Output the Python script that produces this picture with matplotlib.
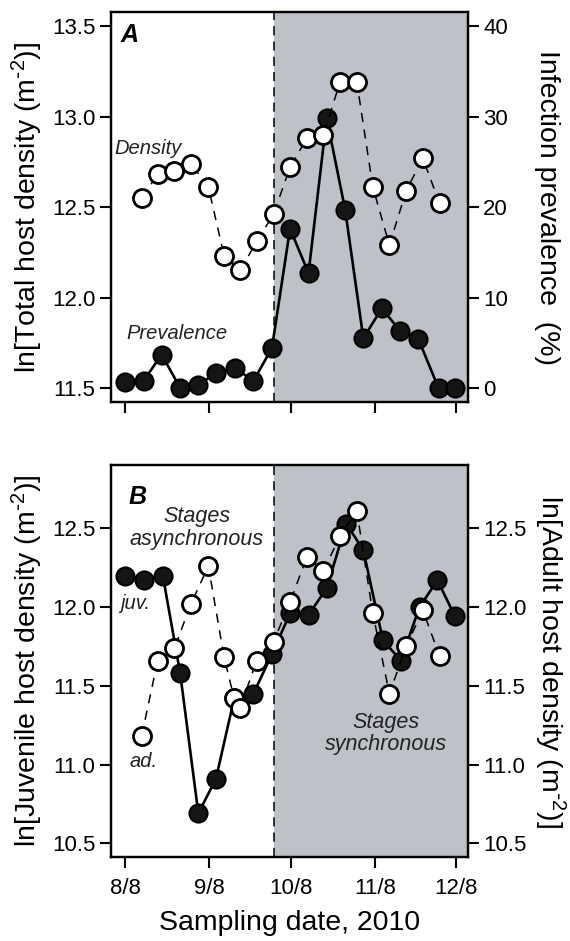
import numpy as np
import matplotlib.pyplot as plt
from matplotlib.ticker import FormatStrFormatter

plt.rcParams['font.family'] = ['Liberation Sans', 'DejaVu Sans']
plt.rcParams['mathtext.default'] = 'regular'

# days since 8 Aug 2010
tick_days = [0, 31, 61, 92, 122]
tick_labels = ['8/8', '9/8', '10/8', '11/8', '12/8']
switch_day = 54.7

# panel A: prevalence (%) and total density
prev_days = [0, 6.8, 13.5, 20.3, 27.0, 33.5, 40.5, 47.3, 54.1, 60.8,
             67.6, 74.3, 81.1, 87.8, 94.6, 101.4, 108.1, 115.5, 121.6]
prevalence = [0.7, 0.8, 3.7, 0.0, 0.3, 1.7, 2.2, 0.8, 4.4, 17.6,
              12.7, 29.8, 19.7, 5.5, 8.8, 6.3, 5.4, 0.0, 0.0]
dens_days = [6.1, 12.0, 18.2, 24.3, 30.7, 36.5, 42.4, 48.5, 54.7, 60.8,
             67.0, 73.1, 79.2, 85.4, 91.3, 97.4, 103.6, 109.7, 115.9]
density = [12.55, 12.68, 12.70, 12.74, 12.61, 12.23, 12.15, 12.31, 12.46, 12.72,
           12.88, 12.90, 13.19, 13.19, 12.61, 12.29, 12.59, 12.77, 12.52]

# panel B: juvenile and adult density
juv_days = [0, 6.8, 13.9, 20.3, 27.0, 33.5, 40.2, 47.3, 54.1, 60.8,
            67.6, 74.3, 81.5, 87.8, 95.0, 101.6, 108.5, 115.1, 121.6]
juvenile = [12.20, 12.17, 12.20, 11.58, 10.69, 10.91, 11.42, 11.45, 11.70, 11.96,
            11.95, 12.12, 12.53, 12.36, 11.79, 11.66, 12.00, 12.17, 11.94]
ad_days = [6.1, 12.0, 18.2, 24.3, 30.7, 36.5, 40.2, 42.4, 48.5, 54.7,
           60.8, 67.0, 73.1, 79.2, 85.4, 91.3, 97.4, 103.6, 109.7, 115.9]
adult = [11.18, 11.66, 11.74, 12.02, 12.26, 11.68, 11.42, 11.36, 11.66, 11.78,
         12.03, 12.32, 12.23, 12.45, 12.61, 11.96, 11.45, 11.75, 11.98, 11.69]

shade = '#bfc1c9'
note_col = '#222222'
xlim = (-5.3, 126.4)
fs_tick = 16
fs_lab = 20.5
fs_note = 14.5
m2 = r'(m$^{\text{-}2}$)'


def style(a):
    for s in a.spines.values():
        s.set_linewidth(1.6)
    a.tick_params(direction='out', length=8, width=1.5, labelsize=fs_tick, pad=3)


fig = plt.figure(figsize=(5.7, 9.41), dpi=100)

# ---- panel A
axA = fig.add_axes([0.1942, 0.5728, 0.627, 0.4144])
axA2 = axA.twinx()
axA.set_zorder(axA2.get_zorder() + 1)
axA.patch.set_visible(False)

axA2.axvspan(switch_day, xlim[1], color=shade, lw=0, zorder=0)
axA2.axvline(switch_day, color='black', lw=1.1, ls=(0, (6, 4)), zorder=1)
axA2.plot(prev_days, prevalence, '-o', color='black', lw=1.9, ms=13,
          mfc='#151515', mec='black', mew=1.5, zorder=2)
axA.plot(dens_days, density, color='black', lw=1.1, ls=(0, (6, 5)), marker='o',
         ms=13, mfc='white', mec='black', mew=2, zorder=3)

axA.set_xlim(xlim)
axA.set_ylim(11.423, 13.577)
axA2.set_ylim(-1.54, 41.54)
axA.set_yticks([11.5, 12.0, 12.5, 13.0, 13.5])
axA.yaxis.set_major_formatter(FormatStrFormatter('%.1f'))
axA2.set_yticks([0, 10, 20, 30, 40])
axA.set_xticks(tick_days)
axA.set_xticklabels([])
style(axA)
style(axA2)
axA.set_ylabel('ln[Total host density ' + m2 + ']', fontsize=fs_lab, labelpad=5)
axA2.set_ylabel('Infection prevalence  (%)', fontsize=fs_lab, rotation=270, labelpad=37)

axA.text(-1.8, 13.45, 'A', fontsize=18, fontweight='bold', fontstyle='italic',
         ha='left', va='center')
axA.text(8.5, 12.826, 'Density', fontsize=fs_note, fontstyle='italic', color=note_col,
         ha='center', va='center')
axA.text(19.2, 11.80, 'Prevalence', fontsize=fs_note, fontstyle='italic', color=note_col,
         ha='center', va='center')

# ---- panel B
axB = fig.add_axes([0.1942, 0.0893, 0.627, 0.4166])
axB2 = axB.twinx()

axB.axvspan(switch_day, xlim[1], color=shade, lw=0, zorder=0)
axB.axvline(switch_day, color='black', lw=1.1, ls=(0, (6, 4)), zorder=1)
axB.plot(juv_days, juvenile, '-o', color='black', lw=1.9, ms=13,
         mfc='#151515', mec='black', mew=1.5, zorder=2)
axB2.plot(ad_days, adult, color='black', lw=1.1, ls=(0, (6, 5)), marker='o',
          ms=13, mfc='white', mec='black', mew=2, zorder=3)

axB.set_xlim(xlim)
axB.set_ylim(10.413, 12.902)
axB2.set_ylim(10.413, 12.902)
yt = [10.5, 11.0, 11.5, 12.0, 12.5]
axB.set_yticks(yt)
axB2.set_yticks(yt)
axB.yaxis.set_major_formatter(FormatStrFormatter('%.1f'))
axB2.yaxis.set_major_formatter(FormatStrFormatter('%.1f'))
axB.set_xticks(tick_days)
axB.set_xticklabels(tick_labels)
style(axB)
style(axB2)
axB.tick_params(axis='x', pad=7)
axB.set_ylabel('ln[Juvenile host density ' + m2 + ']', fontsize=fs_lab, labelpad=5)
axB2.set_ylabel('ln[Adult host density ' + m2 + ']', fontsize=fs_lab, rotation=270, labelpad=29)
axB.set_xlabel('Sampling date, 2010', fontsize=fs_lab, labelpad=8)

axB.text(1.2, 12.70, 'B', fontsize=18, fontweight='bold', fontstyle='italic',
         ha='left', va='center')
axB.text(26.5, 12.50, 'Stages\nasynchronous', fontsize=fs_note + 1, fontstyle='italic',
         color=note_col, ha='center', va='center', linespacing=1.1)
axB.text(3.7, 12.024, 'juv.', fontsize=fs_note, fontstyle='italic', color=note_col,
         ha='center', va='center')
axB.text(7.0, 11.018, 'ad.', fontsize=fs_note, fontstyle='italic', color=note_col,
         ha='center', va='center')
axB.text(96.2, 11.198, 'Stages\nsynchronous', fontsize=fs_note + 1, fontstyle='italic',
         color=note_col, ha='center', va='center', linespacing=1.1)

fig.savefig('out.png', dpi=100)
